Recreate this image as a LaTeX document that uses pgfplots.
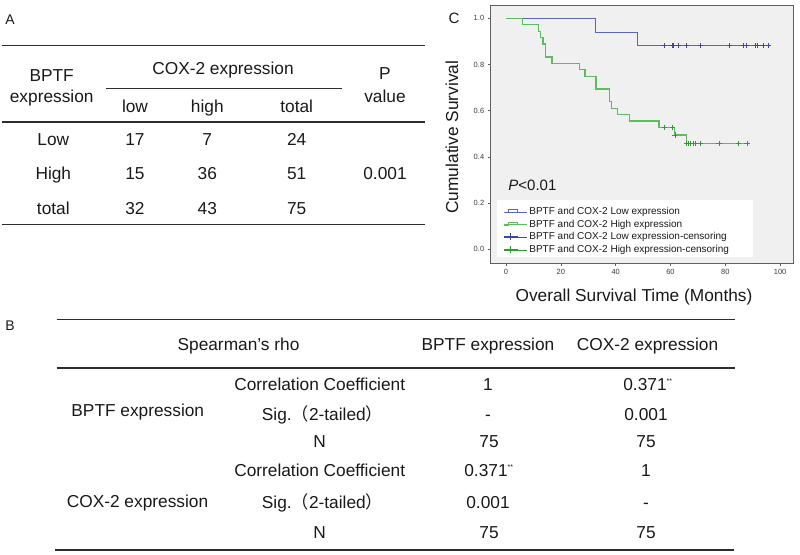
\documentclass[border=0pt]{standalone}
\usepackage{pgfplots}
\pgfplotsset{compat=1.18}
\usepackage{fontspec}
\setmainfont{Liberation Sans}
\newfontfamily\cjk{Noto Sans CJK SC}
\definecolor{txt}{RGB}{25,25,25}
\definecolor{rulec}{RGB}{45,45,45}
\definecolor{plotbg}{RGB}{240,240,240}
\definecolor{framec}{RGB}{95,95,95}
\definecolor{ticktxt}{RGB}{60,60,60}
\definecolor{bluel}{RGB}{90,102,182}
\definecolor{blued}{RGB}{60,72,160}
\definecolor{greenl}{RGB}{96,186,96}
\definecolor{greend}{RGB}{45,155,45}
\newcommand{\tf}{\fontsize{17.3}{20}\selectfont}
\newcommand{\cell}[3]{\node[anchor=base,font=\tf,text=txt,inner sep=0pt] at (#1,{547.8-#2}) {#3};}
\newcommand{\hl}[4]{\draw[line width=#4,color=rulec] (#1,{554-#3}) -- (#2,{554-#3});}
\begin{document}
\begin{tikzpicture}[x=1pt,y=1pt]
\path[use as bounding box] (0,0) rectangle (800,554);
% ---------------- Table A ----------------
\node[anchor=base,font=\fontsize{14}{16}\selectfont,text=txt,inner sep=0pt] at (10,529) {A};
\hl{1.7}{425}{45.7}{1.3pt}
\hl{106}{341.7}{88.3}{1.1pt}
\hl{1.7}{425}{122}{1.3pt}
\hl{1.7}{425}{224.3}{1.3pt}
\cell{51.7}{75}{BPTF}
\cell{51.7}{96.7}{expression}
\cell{223}{68.3}{COX-2 expression}
\cell{135}{106.7}{low}
\cell{207.3}{106.7}{high}
\cell{296.7}{106.7}{total}
\cell{385}{73.3}{P}
\cell{385}{96.7}{value}
\cell{53.3}{139.3}{Low}
\cell{135}{139.3}{17}
\cell{207.3}{139.3}{7}
\cell{296.7}{139.3}{24}
\cell{53.3}{173.3}{High}
\cell{135}{173.3}{15}
\cell{207.3}{173.3}{36}
\cell{296.7}{173.3}{51}
\cell{385}{173.3}{0.001}
\cell{53.3}{208.3}{total}
\cell{135}{208.3}{32}
\cell{207.3}{208.3}{43}
\cell{296.7}{208.3}{75}
% ---------------- Table B ----------------
\node[anchor=base,font=\fontsize{14}{16}\selectfont,text=txt,inner sep=0pt] at (10,223.3) {B};
\hl{56.7}{735}{319.5}{1.6pt}
\hl{56.7}{735}{367.7}{2.2pt}
\hl{55}{734}{550}{1.8pt}
\cell{238.5}{344.3}{Spearman’s rho}
\cell{488}{344.3}{BPTF expression}
\cell{647.5}{344.3}{COX-2 expression}
\cell{137.8}{410}{BPTF expression}
\cell{137.5}{501.7}{COX-2 expression}
\cell{319.7}{384}{Correlation Coefficient}
\cell{322.5}{414}{Sig.{\cjk （}2-tailed{\cjk ）}}
\cell{319.5}{441}{N}
\cell{319.7}{470}{Correlation Coefficient}
\cell{322.5}{502}{Sig.{\cjk （}2-tailed{\cjk ）}}
\cell{319.5}{532.5}{N}
\cell{488}{384}{1}
\cell{645}{384}{0.371\rlap{\raisebox{7pt}{\fontsize{7}{7}\selectfont **}}}
\cell{488}{414}{-}
\cell{646}{414}{0.001}
\cell{489}{441}{75}
\cell{646}{441}{75}
\cell{486}{470}{0.371\rlap{\raisebox{7pt}{\fontsize{7}{7}\selectfont **}}}
\cell{646}{470}{1}
\cell{488}{502}{0.001}
\cell{646}{502}{-}
\cell{489}{532.5}{75}
\cell{646}{532.5}{75}
% ---------------- Panel C ----------------
\node[anchor=base,font=\fontsize{15}{17}\selectfont,text=txt,inner sep=0pt] at (454,530) {C};
\begin{axis}[
  at={(490.7pt,291pt)}, anchor=south west,
  width=302.3pt, height=258pt, scale only axis,
  xmin=-5.6, xmax=104.7, ymin=-0.059, ymax=1.058,
  axis background/.style={fill=plotbg},
  axis line style={draw=framec, line width=0.9pt},
  xtick={0,20,40,60,80,100}, ytick={0,0.2,0.4,0.6,0.8,1.0},
  tick pos=left, tick align=outside, major tick length=3pt,
  tick style={draw=framec, line width=0.6pt},
  ticklabel style={font=\fontsize{7.5}{8}\selectfont, text=ticktxt},
  /pgf/number format/assume math mode=true,
  yticklabel style={/pgf/number format/.cd, fixed, fixed zerofill, precision=1},
  xticklabel style={/pgf/number format/.cd, fixed, precision=0},
  xlabel={Overall Survival Time (Months)},
  ylabel={Cumulative Survival},
  label style={font=\fontsize{17.3}{20}\selectfont, text=txt},
  xlabel style={at={(rel axis cs:0.474,-0.148)}, anchor=base},
  ylabel style={at={(rel axis cs:-0.128,0.488)}, anchor=center},
  legend style={at={(rel axis cs:0.0407,0.2167)}, anchor=north west, draw=none, fill=none,
    inner sep=0pt, row sep=2.6pt, font=\fontsize{10}{11}\selectfont, text=txt,
    nodes={inner ysep=0pt, inner xsep=2pt, text height=7.5pt, text depth=2.5pt}},
  legend cell align=left,
]
\fill[white] (rel axis cs:0.0218,0.0221) rectangle (rel axis cs:0.8687,0.2442);
\node[anchor=base west, font=\fontsize{15}{17}\selectfont, text=txt, inner sep=0pt] at (rel axis cs:0.058,0.281) {\textit{P}<0.01};

\addplot[const plot, color=bluel, line width=1pt,
  legend image code/.code={\draw[bluel, line width=0.7pt] (0pt,-0.3pt) -- (5pt,-0.3pt) -- (5pt,2.7pt) -- (14pt,2.7pt) -- (14pt,0.5pt); \path (0pt,0pt) -- (23pt,0pt);}]
  coordinates {(0,1) (32.8,0.941) (48.1,0.882) (95.8,0.882)};
\addlegendentry{BPTF and COX-2 Low expression}

\addplot[const plot, color=greenl, line width=1.2pt,
  legend image code/.code={\draw[greenl, line width=0.7pt] (0pt,-0.3pt) -- (5pt,-0.3pt) -- (5pt,2.7pt) -- (14pt,2.7pt) -- (14pt,0.5pt); \path (0pt,0pt) -- (23pt,0pt);}]
  coordinates {(0,1) (6.1,0.972) (11.8,0.944) (12.6,0.917) (13.5,0.889) (14.4,0.833)
    (16.8,0.806) (26.8,0.778) (28.8,0.750) (32.8,0.694) (37.6,0.639) (38.6,0.611)
    (40.6,0.583) (44.9,0.556) (55.8,0.528) (61.4,0.495) (65.7,0.457) (87.9,0.457)};
\addlegendentry{BPTF and COX-2 High expression}

\addplot[only marks, mark=+, mark size=2.6pt, color=blued, mark options={line width=0.7pt},
  legend image code/.code={\draw[blued, line width=0.7pt] (0pt,1pt) -- (14pt,1pt) (7pt,-2.5pt) -- (7pt,4.5pt); \path (0pt,0pt) -- (23pt,0pt);}]
  coordinates {(57.7,0.882) (60.5,0.882) (61.1,0.882) (62.9,0.882) (65.9,0.882) (70.8,0.882)
    (81.5,0.882) (86.6,0.882) (87.6,0.882) (90.9,0.882) (91.7,0.882) (93.7,0.882) (95.7,0.882)};
\addlegendentry{BPTF and COX-2 Low expression-censoring}

\addplot[only marks, mark=+, mark size=2.6pt, color=greend, mark options={line width=0.7pt},
  legend image code/.code={\draw[greend, line width=0.7pt] (0pt,1pt) -- (14pt,1pt) (7pt,-2.5pt) -- (7pt,4.5pt); \path (0pt,0pt) -- (23pt,0pt);}]
  coordinates {(57.7,0.528) (60.8,0.528) (61.6,0.495) (65.9,0.457) (66.6,0.457) (67.4,0.457)
    (68.4,0.457) (69.1,0.457) (70.8,0.457) (77.7,0.457) (84.8,0.457) (87.9,0.457)};
\addlegendentry{BPTF and COX-2 High expression-censoring}
\end{axis}
\end{tikzpicture}
\end{document}
